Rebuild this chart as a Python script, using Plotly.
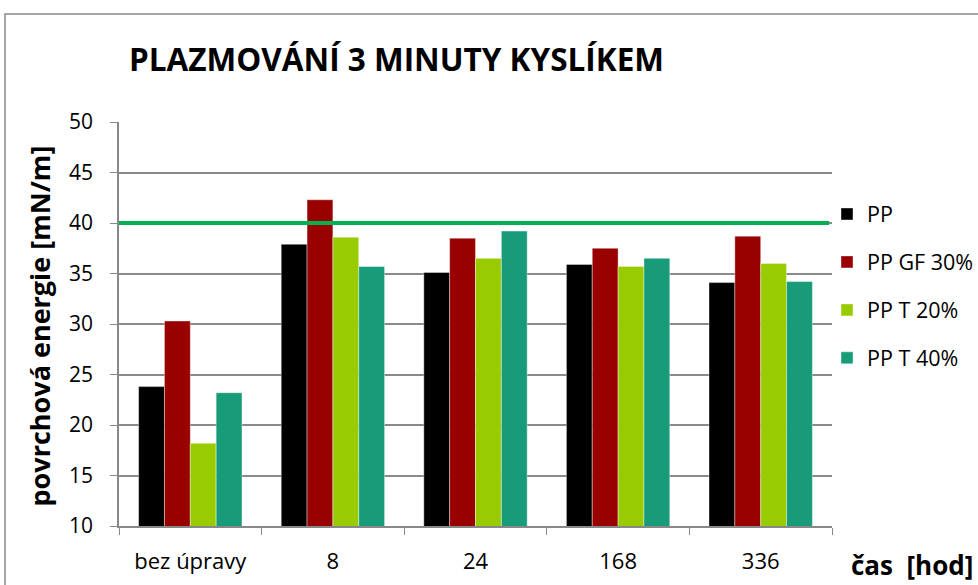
import plotly.graph_objects as go

categories = ["bez úpravy", "8", "24", "168", "336"]
series_names = ["PP", "PP GF 30%", "PP T 20%", "PP T 40%"]
pp = [23.8, 37.9, 35.1, 35.9, 34.1]
pp_gf30 = [30.3, 42.3, 38.5, 37.5, 38.7]
pp_t20 = [18.2, 38.6, 36.5, 35.7, 36.0]
pp_t40 = [23.2, 35.7, 39.2, 36.5, 34.2]
threshold = 40
colors = ["#000000", "#990000", "#99CC00", "#179B78"]

W, H = 978, 585
L, T = 119, 122
PW, PH = 713, 404
FONT = "Open Sans"

fig = go.Figure()
for name, vals, col in zip(series_names, [pp, pp_gf30, pp_t20, pp_t40], colors):
    fig.add_trace(go.Bar(
        x=categories, y=vals, name=name, legendgroup=name,
        marker=dict(color=col, line=dict(color="rgba(255,255,255,0.5)", width=0.8)),
    ))

fig.add_shape(type="line", xref="paper", yref="y", x0=0, x1=0.996,
              y0=threshold, y1=threshold, line=dict(color="#00B050", width=4), layer="above")

# outer chart border
fig.add_shape(type="rect", xref="paper", yref="paper", x0=(5 - L) / PW, x1=1.4, y0=-0.3,
              y1=(PH + T - 14) / PH,
              line=dict(color="#888888", width=1.5), fillcolor="rgba(0,0,0,0)", layer="below")

# axis titles
fig.add_annotation(text="<b>čas \u00a0[hod]</b>", xref="paper", yref="paper",
                   x=(849 - L) / PW, y=(PH + T - 565) / PH,
                   xanchor="left", yanchor="middle", showarrow=False,
                   font=dict(family=FONT, size=26, color="#000000"))
fig.add_annotation(text="<b>povrchová energie [mN/m]</b>", xref="paper", yref="paper",
                   x=(38.5 - L) / PW, y=(PH + T - 326) / PH, textangle=-90,
                   xanchor="center", yanchor="middle", showarrow=False,
                   font=dict(family=FONT, size=27, color="#000000"))

fig.update_layout(
    width=W, height=H,
    margin=dict(l=L, r=W - L - PW, t=T, b=H - T - PH, autoexpand=False),
    paper_bgcolor="white", plot_bgcolor="white",
    barmode="group", bargap=0.275, bargroupgap=0,
    font=dict(family=FONT, color="#000000"),
    title=dict(text="<b>PLAZMOVÁNÍ 3 MINUTY KYSLÍKEM</b>", x=129 / W, xanchor="left",
               y=1 - 60 / H, yanchor="middle", font=dict(family=FONT, size=31.5, color="#000000")),
    legend=dict(x=0.993, y=0.823, xanchor="left", yanchor="top", font=dict(size=21.5),
                tracegroupgap=17, bgcolor="rgba(0,0,0,0)"),
    xaxis=dict(showline=True, linecolor="#888888", linewidth=1.5, ticks="outside",
               tickson="boundaries", ticklen=7, tickcolor="#888888", tickfont=dict(size=22),
               showgrid=False, automargin=False, ticklabelstandoff=15),
    yaxis=dict(range=[10, 50], dtick=5, showline=True, linecolor="#888888", linewidth=1.5,
               ticks="outside", ticklen=7, tickcolor="#888888", gridcolor="#8a8a8a", gridwidth=1.5,
               tickfont=dict(size=21), zeroline=False, automargin=False, ticklabelstandoff=13),
    showlegend=True,
)

fig.write_html("out.html", config={"displayModeBar": False},
               post_script="document.body.style.margin='0px';")
